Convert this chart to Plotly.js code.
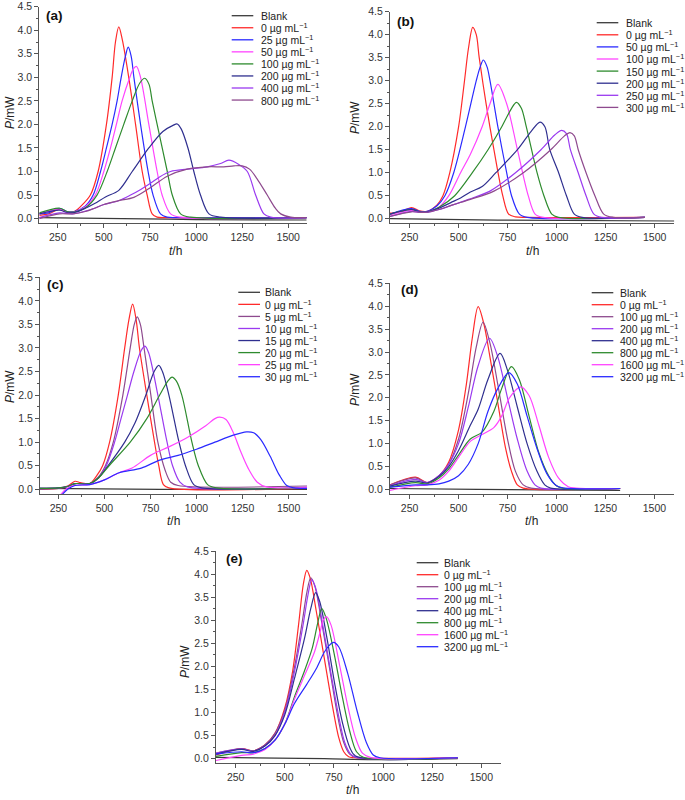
<!DOCTYPE html>
<html>
<head>
<meta charset="utf-8">
<script src="https://cdn.plot.ly/plotly-3.0.1.min.js"></script>
<style>body{margin:0;background:#fff}</style>
</head>
<body>
<div id="chart" style="width:685px;height:800px"></div>
<script>
// panel (a)
const a_conc = ['Blank', 0, 25, 50, 100, 200, 400, 800]
const a_t = [
    [150, 600, 1000, 1600],
    [150, 200, 260, 300, 340, 380, 427, 469, 514, 545, 563, 581, 600, 635, 672, 708, 735, 762, 789, 850, 1600],
    [150, 200, 260, 300, 340, 400, 442, 482, 514, 545, 572, 594, 617, 632, 648, 663, 699, 740, 767, 807, 843, 900, 1600],
    [150, 260, 300, 340, 400, 454, 500, 536, 568, 599, 641, 660, 677, 699, 744, 789, 816, 862, 916, 1600],
    [150, 260, 300, 340, 400, 463, 518, 563, 608, 654, 695, 722, 745, 762, 789, 844, 871, 916, 970, 1600],
    [150, 260, 300, 340, 400, 450, 509, 581, 654, 744, 820, 875, 898, 920, 956, 988, 1024, 1070, 1133, 1600],
    [150, 260, 330, 400, 450, 500, 580, 645, 700, 753, 800, 862, 952, 1061, 1133, 1178, 1232, 1278, 1323, 1368, 1405, 1600],
    [150, 260, 330, 400, 450, 500, 580, 663, 750, 844, 952, 1061, 1150, 1205, 1250, 1290, 1330, 1386, 1430, 1459, 1513, 1600]
]
const a_p = [
    [0.02, 0.0, -0.02, -0.03],
    [0.07, 0.1, 0.2, 0.14, 0.15, 0.28, 0.5, 1.0, 2.0, 3.0, 3.75, 4.07, 3.8, 3.0, 2.0, 1.0, 0.5, 0.1, 0.03, 0.02, 0.02],
    [0.1, 0.12, 0.22, 0.15, 0.15, 0.27, 0.5, 1.0, 1.5, 2.0, 2.5, 3.0, 3.45, 3.64, 3.45, 3.0, 2.0, 1.0, 0.5, 0.1, 0.03, 0.02, 0.02],
    [0.1, 0.2, 0.14, 0.14, 0.25, 0.5, 1.0, 1.5, 2.0, 2.5, 3.0, 3.18, 3.23, 3.0, 2.0, 1.0, 0.5, 0.1, 0.03, 0.02],
    [0.12, 0.22, 0.15, 0.14, 0.23, 0.5, 1.0, 1.5, 2.0, 2.5, 2.88, 2.98, 2.85, 2.5, 2.0, 1.0, 0.5, 0.1, 0.03, 0.02],
    [0.1, 0.18, 0.13, 0.13, 0.22, 0.32, 0.46, 0.6, 1.0, 1.5, 1.85, 1.98, 2.01, 1.9, 1.5, 1.0, 0.5, 0.1, 0.03, 0.02],
    [0.02, 0.12, 0.1, 0.16, 0.22, 0.3, 0.38, 0.5, 0.62, 0.75, 0.88, 1.0, 1.05, 1.1, 1.17, 1.24, 1.15, 1.0, 0.5, 0.1, 0.03, 0.02],
    [0.0, 0.1, 0.1, 0.15, 0.22, 0.3, 0.38, 0.45, 0.65, 0.9, 1.05, 1.1, 1.1, 1.12, 1.12, 1.05, 0.85, 0.5, 0.22, 0.1, 0.03, 0.02]
]

// panel (b)
const b_conc = ['Blank', 0, 50, 100, 150, 200, 250, 300]
const b_t = [
    [150, 700, 1600],
    [150, 200, 260, 300, 340, 390, 420, 455, 500, 530, 550, 572, 590, 605, 640, 680, 725, 755, 790, 850, 1450],
    [150, 260, 300, 340, 390, 430, 475, 535, 590, 610, 626, 645, 660, 700, 745, 770, 810, 850, 1450],
    [150, 260, 300, 340, 400, 450, 510, 560, 620, 660, 700, 745, 800, 855, 890, 930, 1450],
    [150, 260, 300, 340, 400, 480, 570, 650, 720, 770, 795, 820, 845, 900, 935, 975, 1010, 1450],
    [150, 260, 300, 340, 400, 460, 510, 560, 620, 690, 800, 870, 915, 940, 965, 1010, 1050, 1090, 1130, 1450],
    [150, 260, 300, 340, 400, 470, 550, 660, 790, 920, 990, 1025, 1050, 1070, 1110, 1150, 1190, 1230, 1450],
    [150, 260, 300, 340, 400, 470, 560, 680, 830, 970, 1040, 1068, 1090, 1110, 1150, 1195, 1240, 1290, 1450]
]
const b_p = [
    [0.0, -0.03, -0.05],
    [0.12, 0.14, 0.24, 0.17, 0.16, 0.3, 0.5, 1.0, 2.0, 3.0, 3.7, 4.16, 4.0, 3.5, 2.5, 1.5, 0.5, 0.1, 0.04, 0.03, 0.03],
    [0.1, 0.22, 0.16, 0.16, 0.28, 0.5, 1.0, 2.0, 3.0, 3.3, 3.45, 3.3, 3.0, 2.0, 1.0, 0.5, 0.1, 0.03, 0.03],
    [0.08, 0.18, 0.14, 0.15, 0.25, 0.5, 1.0, 1.4, 2.0, 2.5, 2.92, 2.5, 1.5, 0.5, 0.1, 0.03, 0.03],
    [0.1, 0.2, 0.15, 0.15, 0.25, 0.5, 1.0, 1.5, 2.0, 2.4, 2.53, 2.4, 2.0, 1.0, 0.5, 0.1, 0.03, 0.03],
    [0.1, 0.2, 0.15, 0.15, 0.23, 0.35, 0.45, 0.58, 0.7, 1.0, 1.5, 1.9, 2.1, 2.0, 1.5, 1.0, 0.5, 0.1, 0.03, 0.03],
    [0.05, 0.16, 0.14, 0.14, 0.2, 0.3, 0.42, 0.6, 1.0, 1.5, 1.82, 1.92, 1.85, 1.5, 1.0, 0.5, 0.1, 0.03, 0.03],
    [0.05, 0.15, 0.14, 0.14, 0.2, 0.3, 0.42, 0.6, 1.0, 1.5, 1.8, 1.87, 1.8, 1.5, 1.0, 0.5, 0.1, 0.03, 0.03]
]

// panel (c)
const c_conc = ['Blank', 0, 5, 10, 15, 20, 25, 30]
const c_t = [
    [150, 800, 1600],
    [150, 250, 300, 340, 370, 420, 460, 490, 528, 575, 610, 633, 653, 672, 690, 730, 772, 795, 820, 850, 1600],
    [150, 250, 300, 340, 420, 465, 505, 548, 600, 640, 662, 678, 695, 715, 752, 790, 830, 860, 900, 1600],
    [150, 250, 300, 340, 420, 470, 510, 555, 590, 625, 660, 700, 720, 740, 790, 840, 870, 910, 950, 1600],
    [150, 250, 300, 340, 420, 470, 520, 610, 665, 725, 770, 795, 815, 850, 905, 940, 985, 1030, 1600],
    [150, 250, 300, 340, 420, 470, 525, 640, 730, 800, 845, 867, 890, 920, 975, 1010, 1060, 1110, 1600],
    [255, 290, 330, 420, 500, 580, 650, 750, 850, 950, 1050, 1100, 1126, 1160, 1200, 1240, 1280, 1330, 1380, 1600],
    [262, 300, 340, 420, 500, 580, 700, 800, 900, 1000, 1100, 1200, 1272, 1310, 1350, 1400, 1450, 1490, 1530, 1600]
]
const c_p = [
    [0.02, 0.0, 0.0],
    [0.0, 0.02, 0.07, 0.17, 0.14, 0.12, 0.3, 0.5, 1.0, 2.0, 3.0, 3.6, 3.93, 3.6, 3.0, 2.0, 1.0, 0.5, 0.1, 0.03, 0.02],
    [0.0, 0.02, 0.06, 0.12, 0.12, 0.25, 0.5, 1.0, 2.0, 3.0, 3.5, 3.66, 3.5, 3.0, 2.0, 1.0, 0.4, 0.15, 0.08, 0.07],
    [0.02, 0.03, 0.06, 0.12, 0.12, 0.25, 0.5, 1.0, 1.5, 2.0, 2.5, 2.95, 3.04, 2.9, 2.0, 1.0, 0.5, 0.15, 0.05, 0.04],
    [0.02, 0.03, 0.06, 0.12, 0.12, 0.25, 0.5, 1.0, 1.4, 2.0, 2.5, 2.63, 2.5, 2.0, 1.0, 0.5, 0.1, 0.03, 0.03],
    [0.02, 0.03, 0.06, 0.12, 0.12, 0.25, 0.5, 1.0, 1.5, 2.0, 2.3, 2.38, 2.3, 2.0, 1.0, 0.5, 0.1, 0.03, 0.03],
    [-0.15, 0.0, 0.08, 0.1, 0.2, 0.35, 0.45, 0.72, 0.9, 1.1, 1.35, 1.5, 1.53, 1.48, 1.2, 0.8, 0.45, 0.15, 0.05, 0.04],
    [-0.15, 0.0, 0.08, 0.1, 0.2, 0.35, 0.45, 0.62, 0.72, 0.85, 1.0, 1.15, 1.22, 1.2, 1.05, 0.7, 0.3, 0.08, 0.03, 0.02]
]

// panel (d)
const d_conc = ['Blank', 0, 100, 200, 400, 800, 1600, 3200]
const d_t = [
    [150, 600, 1325],
    [150, 280, 340, 400, 450, 500, 540, 570, 600, 630, 660, 700, 740, 770, 800, 830, 1325],
    [150, 280, 340, 400, 450, 500, 550, 590, 625, 660, 700, 750, 790, 830, 870, 1325],
    [150, 280, 340, 400, 450, 500, 550, 600, 658, 700, 750, 800, 850, 890, 920, 1325],
    [150, 280, 340, 400, 450, 500, 560, 600, 650, 712, 750, 800, 850, 900, 940, 970, 1325],
    [150, 280, 340, 400, 450, 500, 560, 620, 680, 720, 770, 810, 860, 910, 960, 1000, 1030, 1325],
    [150, 280, 340, 400, 450, 500, 560, 620, 680, 720, 760, 818, 860, 910, 960, 1010, 1060, 1100, 1325],
    [150, 280, 340, 400, 450, 500, 550, 600, 650, 700, 757, 800, 850, 900, 950, 1000, 1040, 1325]
]
const d_p = [
    [0.02, 0.0, -0.02],
    [0.1, 0.27, 0.15, 0.3, 0.6, 1.3, 2.3, 3.3, 3.99, 3.6, 2.9, 1.9, 0.9, 0.4, 0.1, 0.03, 0.02],
    [0.1, 0.25, 0.15, 0.3, 0.55, 1.1, 2.1, 3.1, 3.65, 3.2, 2.3, 1.1, 0.4, 0.1, 0.03, 0.02],
    [0.08, 0.22, 0.15, 0.3, 0.55, 1.0, 1.8, 2.7, 3.3, 2.9, 2.0, 1.1, 0.4, 0.1, 0.03, 0.02],
    [0.07, 0.18, 0.14, 0.28, 0.5, 0.85, 1.4, 1.75, 2.4, 2.97, 2.6, 1.8, 1.0, 0.4, 0.1, 0.03, 0.02],
    [0.05, 0.15, 0.12, 0.25, 0.45, 0.75, 1.1, 1.25, 1.7, 2.2, 2.68, 2.4, 1.6, 0.8, 0.3, 0.08, 0.03, 0.02],
    [-0.02, 0.08, 0.1, 0.2, 0.4, 0.7, 1.05, 1.2, 1.35, 1.6, 2.0, 2.24, 2.05, 1.4, 0.7, 0.25, 0.06, 0.03, 0.02],
    [0.05, 0.1, 0.1, 0.12, 0.18, 0.3, 0.55, 1.0, 1.7, 2.2, 2.55, 2.3, 1.6, 0.9, 0.35, 0.08, 0.03, 0.02]
]

// panel (e)
const e_conc = ['Blank', 0, 100, 200, 400, 800, 1600, 3200]
const e_t = [
    [150, 700, 950, 1380],
    [150, 280, 340, 400, 450, 500, 540, 570, 595, 612, 630, 660, 700, 740, 775, 800, 825, 850, 1380],
    [150, 280, 340, 400, 450, 500, 550, 590, 612, 632, 652, 690, 730, 770, 800, 830, 860, 1380],
    [150, 280, 340, 400, 450, 500, 550, 595, 618, 637, 657, 695, 735, 775, 805, 835, 865, 1380],
    [150, 280, 340, 400, 450, 500, 550, 600, 632, 657, 678, 715, 755, 795, 830, 860, 1380],
    [150, 280, 340, 400, 450, 500, 550, 600, 640, 668, 688, 710, 750, 790, 830, 865, 900, 1380],
    [150, 280, 340, 400, 450, 500, 550, 600, 650, 680, 695, 712, 735, 780, 820, 860, 895, 935, 1380],
    [150, 280, 340, 400, 450, 500, 550, 610, 660, 700, 725, 748, 775, 820, 870, 915, 950, 985, 1380]
]
const e_p = [
    [0.03, 0.0, -0.02, 0.0],
    [0.08, 0.22, 0.17, 0.3, 0.55, 1.1, 1.9, 2.9, 3.8, 4.08, 3.9, 3.2, 2.2, 1.2, 0.45, 0.15, 0.04, 0.02, 0.02],
    [0.12, 0.22, 0.17, 0.3, 0.55, 1.05, 2.0, 3.0, 3.6, 3.92, 3.75, 2.9, 1.9, 0.9, 0.35, 0.1, 0.03, 0.02],
    [0.12, 0.21, 0.16, 0.28, 0.5, 1.0, 1.9, 2.95, 3.55, 3.88, 3.7, 2.85, 1.85, 0.9, 0.35, 0.1, 0.03, 0.02],
    [0.1, 0.2, 0.16, 0.28, 0.5, 0.95, 1.75, 2.6, 3.25, 3.6, 3.4, 2.6, 1.6, 0.75, 0.25, 0.06, 0.02],
    [0.05, 0.13, 0.13, 0.22, 0.4, 0.75, 1.35, 1.9, 2.4, 2.95, 3.25, 3.05, 2.3, 1.4, 0.6, 0.15, 0.03, 0.02],
    [-0.04, 0.07, 0.1, 0.2, 0.4, 0.75, 1.3, 1.8, 2.3, 2.75, 3.0, 3.08, 2.9, 2.0, 1.15, 0.45, 0.12, 0.03, 0.02],
    [0.1, 0.15, 0.13, 0.22, 0.4, 0.75, 1.2, 1.6, 1.95, 2.3, 2.45, 2.52, 2.42, 1.85, 1.0, 0.35, 0.08, 0.02, 0.02]
]

// line colours
const BLANK = '#3a3a3a', RED = '#ff2a2a', BLUE = '#2a2aff', MAGENTA = '#ff44ff'
const GREEN = '#2e8b2e', NAVY = '#2f2f8f', PURPLE = '#9a3af0', PLUM = '#8e4a8e'
const a_colors = [BLANK, RED, BLUE, MAGENTA, GREEN, NAVY, PURPLE, PLUM]
const b_colors = [BLANK, RED, BLUE, MAGENTA, GREEN, NAVY, PURPLE, PLUM]
const c_colors = [BLANK, RED, PLUM, PURPLE, NAVY, GREEN, MAGENTA, BLUE]
const d_colors = [BLANK, RED, PLUM, PURPLE, NAVY, GREEN, MAGENTA, BLUE]
const e_colors = d_colors

const W = 685, H = 800
const fx = x => x / W
const fy = y => 1 - y / H

// box: left, right, top, bottom (px); leg: line x0, line x1, text x, first row y, row step
const panels = [
    { name: '(a)', conc: a_conc, t: a_t, p: a_p, colors: a_colors,
      box: [39.3, 306.7, 6.7, 223.3], leg: [231.7, 253.3, 259, 15.7, 12.05],
      tag: [44, 15], ytitle: [10, 113], xtitle: [175, 251] },
    { name: '(b)', conc: b_conc, t: b_t, p: b_p, colors: b_colors,
      box: [390, 674.3, 11.7, 223.3], leg: [596.7, 618.3, 624, 22.7, 12.1],
      tag: [395, 22], ytitle: [355, 118], xtitle: [532, 251] },
    { name: '(c)', conc: c_conc, t: c_t, p: c_p, colors: c_colors,
      box: [40, 307, 277.3, 494], leg: [238.3, 260, 263.3, 292.3, 12.06],
      tag: [45, 285], ytitle: [10, 387], xtitle: [173, 521] },
    { name: '(d)', conc: d_conc, t: d_t, p: d_p, colors: d_colors,
      box: [390, 674, 283.3, 494], leg: [591.7, 613.3, 618.3, 292.7, 12.0],
      tag: [399, 289], ytitle: [355, 390], xtitle: [531, 521] },
    { name: '(e)', conc: e_conc, t: e_t, p: e_p, colors: e_colors,
      box: [216, 501, 551, 763.3], leg: [416.7, 438.3, 441.7, 562.7, 12.0],
      tag: [224, 558], ytitle: [185, 662], xtitle: [352, 790] }
]

const label = c => c === 'Blank' ? 'Blank' : `${c} µg mL<sup>−1</sup>`
const axisFont = { family: 'Liberation Sans, Arial, sans-serif', size: 10.5, color: '#333' }

const traces = []
const shapes = []
const annotations = []
const layout = {
    width: W, height: H,
    margin: { l: 0, r: 0, t: 0, b: 0 },
    paper_bgcolor: '#fff', plot_bgcolor: '#fff',
    showlegend: false,
    font: { family: 'Liberation Sans, Arial, sans-serif', color: '#222' }
}

panels.forEach((pan, k) => {
    const n = k === 0 ? '' : String(k + 1)
    const [l, r, t, b] = pan.box
    layout['xaxis' + n] = {
        domain: [fx(l), fx(r)], anchor: 'y' + n, range: [150, 1600],
        showline: true, linecolor: '#555', linewidth: 1, mirror: false,
        ticks: 'outside', ticklen: 4, tickcolor: '#555', tick0: 0, dtick: 250,
        showgrid: false, zeroline: false, tickfont: axisFont,
        minor: { ticks: 'outside', ticklen: 2, dtick: 125, tickcolor: '#555', showgrid: false }
    }
    layout['yaxis' + n] = {
        domain: [fy(b), fy(t)], anchor: 'x' + n, range: [-0.1, 4.5],
        showline: true, linecolor: '#555', linewidth: 1,
        ticks: 'outside', ticklen: 4, tickcolor: '#555', tick0: 0, dtick: 0.5, tickformat: '.1f',
        showgrid: false, zeroline: false, tickfont: axisFont,
        minor: { ticks: 'outside', ticklen: 2, dtick: 0.25, tickcolor: '#555', showgrid: false }
    }

    pan.t.forEach((ts, i) => {
        traces.push({
            x: ts, y: pan.p[i], xaxis: 'x' + n, yaxis: 'y' + n,
            type: 'scatter', mode: 'lines', name: label(pan.conc[i]),
            line: { color: pan.colors[i], width: 1.2, shape: 'spline', smoothing: 0.9 }
        })
    })

    // legend drawn by hand for tight rows
    const [x0, x1, xt, y0, dy] = pan.leg
    pan.conc.forEach((c, i) => {
        const yy = fy(y0 + i * dy)
        shapes.push({ type: 'line', xref: 'paper', yref: 'paper', x0: fx(x0), x1: fx(x1), y0: yy, y1: yy,
            line: { color: pan.colors[i], width: 1.3 } })
        annotations.push({ xref: 'paper', yref: 'paper', x: fx(xt), y: yy, xanchor: 'left', yanchor: 'middle',
            text: label(c), showarrow: false, font: { size: 10.5, color: '#222' } })
    })

    annotations.push({ xref: 'paper', yref: 'paper', x: fx(pan.tag[0]), y: fy(pan.tag[1]),
        xanchor: 'left', yanchor: 'middle', text: '<b>' + pan.name + '</b>', showarrow: false,
        font: { size: 13.5, color: '#111' } })
    annotations.push({ xref: 'paper', yref: 'paper', x: fx(pan.ytitle[0]), y: fy(pan.ytitle[1]),
        xanchor: 'center', yanchor: 'middle', text: '<i>P</i>/mW', textangle: -90, showarrow: false,
        font: { size: 12, color: '#222' } })
    annotations.push({ xref: 'paper', yref: 'paper', x: fx(pan.xtitle[0]), y: fy(pan.xtitle[1]),
        xanchor: 'center', yanchor: 'middle', text: '<i>t</i>/h', showarrow: false,
        font: { size: 12, color: '#222' } })
})

layout.shapes = shapes
layout.annotations = annotations

Plotly.newPlot('chart', traces, layout, { displayModeBar: false, staticPlot: true })
</script>
</body>
</html>
